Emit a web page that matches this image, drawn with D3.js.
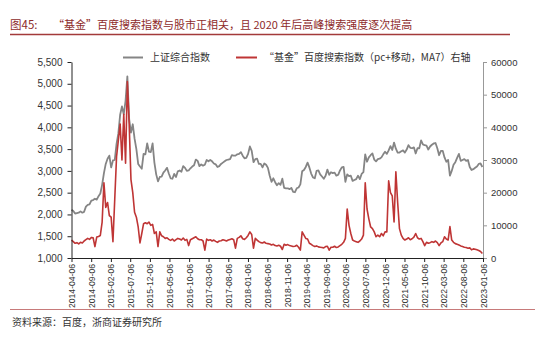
<!DOCTYPE html>
<html><head><meta charset="utf-8">
<script src="https://cdn.jsdelivr.net/npm/d3@7"></script>
<style>body{margin:0;background:#fff}svg{display:block}</style>
</head><body><svg id="c" width="550" height="338"></svg>
<script>
// Sampled every 14 days starting from startDate
const startDate = "2014-04-06";
const stepDays = 14;

// 上证综合指数 (left axis)
const shIndex = [
 2110,2080,2020,2030,2040,2070,2040,2060,2180,2220,2230,2320,2330,2360,2340,2420,2480,2680,2950,3160,
 3280,3350,3080,3240,3250,3620,3860,4290,4480,4300,4610,5170,4190,3880,4070,3740,3500,3160,3100,3050,3390,3380,3630,3440,3430,3630,
 3190,2920,2760,2860,2870,2960,3010,3070,2940,2830,2820,2930,2860,2990,3010,2980,3110,3070,3000,3010,3060,3100,3130,3260,3230,3110,
 3150,3120,3140,3250,3220,3250,3220,3170,3150,3090,3110,3160,3190,3220,3250,3260,3270,3360,3350,3350,3380,3390,3430,3350,3290,3300,
 3390,3560,3460,3200,3270,3280,3160,3160,3080,3170,3140,3070,2890,2750,2830,2740,2670,2720,2680,2820,2610,2600,2600,2580,2610,2520,
 2510,2600,2620,2690,2990,3020,3090,3190,3080,2940,2850,2830,3000,3010,2920,2870,2820,2890,3030,2910,2970,2950,2960,2890,2910,3010,
 3080,3090,2750,2920,2880,2890,2770,2790,2810,2890,2810,2930,2970,3380,3210,3310,3360,3400,3260,3220,3270,3280,3310,3380,3440,3390,
 3470,3570,3480,3650,3510,3420,3420,3450,3470,3420,3490,3590,3530,3520,3540,3400,3520,3520,3700,3610,3590,3580,3490,3560,3600,3630,
 3640,3520,3360,3460,3460,3310,3210,3250,2890,3000,3140,3200,3300,3390,3230,3250,3270,3230,3250,3090,3020,3040,3070,3100,3160,3170,3090
];

// “基金”百度搜索指数（pc+移动，MA7） (right axis)
const searchIndex = [
 5500,5000,4500,4700,4300,4800,4600,5200,5600,6000,5700,6300,6200,3500,6400,6600,6900,11000,23000,15500,
 17000,13000,12500,5000,18000,31000,36000,41000,30000,44000,29000,54000,41000,24000,20000,14000,12500,9500,4600,7500,10500,10800,10500,11000,10000,10300,
 7500,8000,3500,8000,6800,6500,6000,6200,5700,5400,5800,5200,5600,6000,5800,5500,6100,5400,5700,3800,5600,5900,6200,6500,5900,5600,
 5600,5200,2400,5800,5400,5600,5200,5500,5100,4800,5200,5300,5600,5400,5200,5500,5700,5900,5600,3000,6000,6300,6800,5900,5700,6200,
 6900,8000,7200,3000,6000,5500,5000,4700,4600,4900,4500,4400,4300,4000,4200,3800,3700,3900,3600,2600,4200,3900,4100,3800,3700,3500,
 3600,3900,3300,2400,8000,7000,6000,5800,4500,4200,3800,3500,3700,3400,3300,3200,3100,3500,3600,2400,3300,3300,3600,3200,3400,3800,
 4200,4800,6000,15000,10000,7500,5500,5200,5000,4800,5200,5800,7000,23000,15000,12000,9500,9000,8000,6500,7000,6500,7500,6800,8000,8000,
 23600,20000,19000,11000,26400,17000,9000,7000,6000,5500,5800,6200,5600,5900,6400,7500,6200,5800,6000,5000,3800,4800,4500,4700,5000,4800,
 5200,4700,3800,4600,5000,6500,5800,5500,9600,5500,4800,4400,4200,4000,3700,3500,3300,3200,3000,3100,2500,2800,2700,2500,2300,2000,1400
];

const xTickLabels = ["2014-04-06","2014-09-06","2015-02-06","2015-07-06","2015-12-06","2016-05-06","2016-10-06",
 "2017-03-06","2017-08-06","2018-01-06","2018-06-06","2018-11-06","2019-04-06","2019-09-06","2020-02-06",
 "2020-07-06","2020-12-06","2021-05-06","2021-10-06","2022-03-06","2022-08-06","2023-01-06"];
const leftTicks = [1000,1500,2000,2500,3000,3500,4000,4500,5000,5500];
const rightTicks = [0,10000,20000,30000,40000,50000,60000];

const titleLabel = "图45:";
const titleText = "“基金”百度搜索指数与股市正相关，且 2020 年后高峰搜索强度逐次提高";
const legendNames = ["上证综合指数", "“基金”百度搜索指数（pc+移动，MA7）右轴"];
const sourceText = "资料来源：百度，浙商证券研究所";

const parse = d3.timeParse("%Y-%m-%d");
const t0 = parse(startDate);
const dates = shIndex.map((_, i) => d3.timeDay.offset(t0, i * stepDays));

const svg = d3.select("#c");
const cjk = "'Noto Sans CJK SC', sans-serif";
const latin = "'Liberation Sans', Arial, sans-serif";

const x = d3.scaleTime().domain([parse(xTickLabels[0]), parse(xTickLabels[xTickLabels.length-1])]).range([71.5, 483]);
const yL = d3.scaleLinear().domain([1000, 5500]).range([258, 62]);
const yR = d3.scaleLinear().domain([0, 60000]).range([258, 62]);

// Title
svg.append("text").attr("x", 10).attr("y", 29).attr("fill", "#8e2b2b")
  .style("font-family", cjk).style("font-size", "11.5px").text(titleLabel);
svg.append("text").attr("x", 53).attr("y", 29).attr("fill", "#8e2b2b")
  .style("font-family", cjk).style("font-size", "11px").text(titleText);
svg.append("line").attr("x1", 10).attr("x2", 510).attr("y1", 34.5).attr("y2", 34.5)
  .attr("stroke", "#a33a3a").attr("stroke-width", 1.3);

// Lines
const lineL = d3.line().x((d, i) => x(dates[i])).y(d => yL(d));
const lineR = d3.line().x((d, i) => x(dates[i])).y(d => yR(d));
svg.append("path").datum(shIndex).attr("d", lineL).attr("fill", "none")
  .attr("stroke", "#858585").attr("stroke-width", 1.8).attr("stroke-linejoin", "round");
svg.append("path").datum(searchIndex).attr("d", lineR).attr("fill", "none")
  .attr("stroke", "#bf3535").attr("stroke-width", 1.6).attr("stroke-linejoin", "round");

// Axes
const gL = svg.append("g").attr("transform", "translate(71.5,0)")
  .call(d3.axisLeft(yL).tickValues(leftTicks).tickFormat(d3.format(",")).tickSize(4).tickSizeOuter(0));
gL.select(".domain").attr("stroke", "#222");
gL.selectAll(".tick line").attr("stroke", "#222");
gL.selectAll("text").style("font-family", latin).style("font-size", "10px").attr("fill", "#333").attr("x", -9);

const gR = svg.append("g").attr("transform", "translate(483,0)")
  .call(d3.axisRight(yR).tickValues(rightTicks).tickFormat(d3.format("d")).tickSize(4).tickSizeOuter(0));
gR.select(".domain").attr("stroke", "#999");
gR.selectAll(".tick line").attr("stroke", "#999");
gR.selectAll("text").style("font-family", latin).style("font-size", "9.5px").attr("fill", "#333").attr("x", 8);

const gB = svg.append("g").attr("transform", "translate(0,258)")
  .call(d3.axisBottom(x).tickValues(xTickLabels.map(parse)).tickFormat(d3.timeFormat("%Y-%m-%d")).tickSize(4).tickSizeOuter(0));
gB.select(".domain").attr("stroke", "#222");
gB.selectAll(".tick line").attr("stroke", "#222");
gB.selectAll("text").style("font-family", latin).style("font-size", "8.6px").attr("fill", "#333")
  .attr("transform", "rotate(-90)").attr("x", -6).attr("y", 0).attr("dy", "0.35em").style("text-anchor", "end");

// Legend
svg.append("line").attr("x1", 123).attr("x2", 143).attr("y1", 57.5).attr("y2", 57.5).attr("stroke", "#858585").attr("stroke-width", 2);
svg.append("text").attr("x", 150).attr("y", 61).attr("fill", "#333").style("font-family", cjk).style("font-size", "10px").text(legendNames[0]);
svg.append("line").attr("x1", 236).attr("x2", 257).attr("y1", 57.5).attr("y2", 57.5).attr("stroke", "#bf3535").attr("stroke-width", 2);
svg.append("text").attr("x", 264).attr("y", 61).attr("fill", "#333").style("font-family", cjk).style("font-size", "10px").text(legendNames[1]);

// Footer
svg.append("line").attr("x1", 10).attr("x2", 535).attr("y1", 309.5).attr("y2", 309.5).attr("stroke", "#c77a7a").attr("stroke-width", 1.2);
svg.append("text").attr("x", 12).attr("y", 326).attr("fill", "#333").style("font-family", cjk).style("font-size", "10px").text(sourceText);
</script>
</body></html>
